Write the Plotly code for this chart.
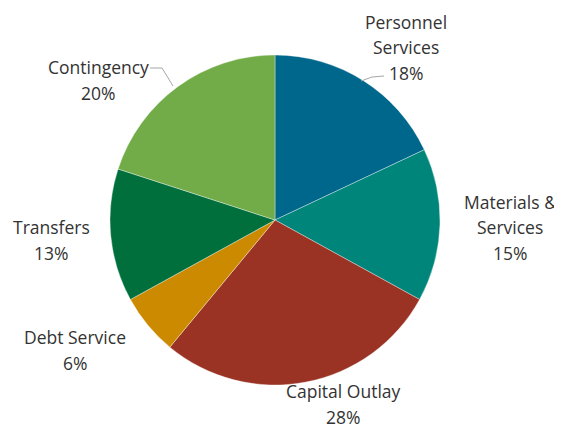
import plotly.graph_objects as go

# page body has an 8px margin; figure is sized and positioned to compensate
OFF = 8
W, H = 562 - OFF, 429 - OFF

categories = ["Personnel Services", "Materials & Services", "Capital Outlay",
              "Debt Service", "Transfers", "Contingency"]
values = [18, 15, 28, 6, 13, 20]
colors = ["#00678C", "#00857A", "#9A3324", "#CC8A00", "#006F3C", "#72AC48"]
label_lines = [["Personnel", "Services"], ["Materials &", "Services"], ["Capital Outlay"],
               ["Debt Service"], ["Transfers"], ["Contingency"]]

# label layout (window pixel positions of first line centre)
label_pos = [(406, 22), (510, 202), (343, 391), (75, 337), (51, 227), (98, 67)]
LINE_GAP = 25.5

cx, cy, r = 275, 220, 165

def px(x):
    return (x - OFF) / W

def py(y):
    return 1 - (y - OFF) / H

fig = go.Figure(go.Pie(
    labels=categories,
    values=values,
    marker=dict(colors=colors, line=dict(color="rgba(255,255,255,0.6)", width=0.6)),
    sort=False,
    direction="clockwise",
    rotation=0,
    textinfo="none",
    hoverinfo="label+percent",
    domain=dict(x=[px(cx - r), px(cx + r)], y=[py(cy + r), py(cy - r)]),
    showlegend=False,
))

annotations = []
total = sum(values)
for lines, v, (x0, y0) in zip(label_lines, values, label_pos):
    texts = lines + [f"{round(v / total * 100)}%"]
    for i, t in enumerate(texts):
        annotations.append(dict(
            x=px(x0), y=py(y0 + i * LINE_GAP), xref="paper", yref="paper",
            text=t, showarrow=False, xanchor="center", yanchor="middle",
            borderpad=0,
            font=dict(family="Open Sans", size=17.5, color="#333333"),
        ))

shapes = []
leaders = [
    [(150, 68), (162, 68), (173, 86)],
    [(384, 76), (372, 77), (361, 81)],
]
for pts in leaders:
    path = "M " + " L ".join(f"{px(x)},{py(y)}" for x, y in pts)
    shapes.append(dict(type="path", path=path, xref="paper", yref="paper",
                       line=dict(color="#A6A6A6", width=1)))

fig.update_layout(
    width=W, height=H,
    margin=dict(l=0, r=0, t=0, b=0),
    paper_bgcolor="white",
    plot_bgcolor="white",
    annotations=annotations,
    shapes=shapes,
)

fig.write_html("out.html")
